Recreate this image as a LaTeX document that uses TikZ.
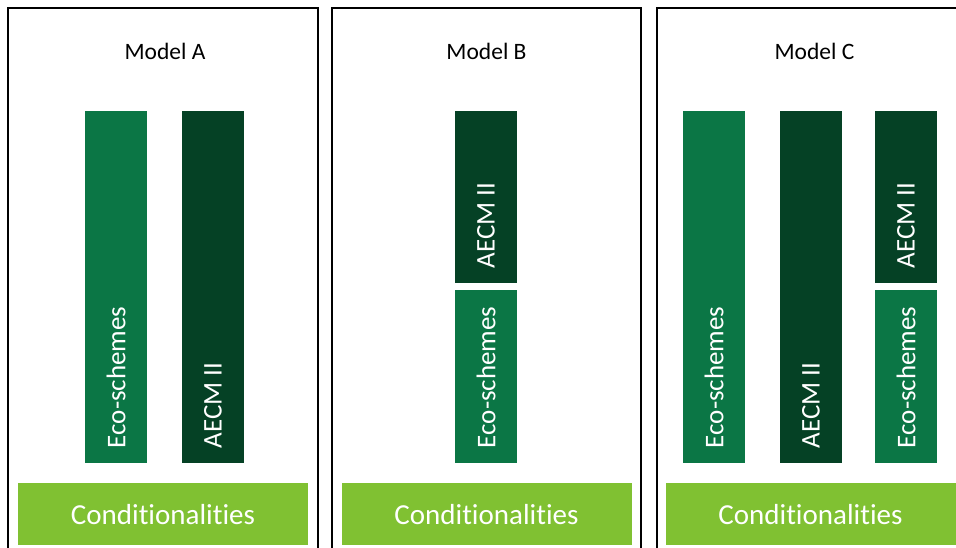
\documentclass[tikz,border=0pt]{standalone}
\usepackage{fontspec}
\setmainfont{Carlito}[Ligatures={NoCommon}]
\definecolor{ecogreen}{RGB}{11,118,69}
\definecolor{aecmgreen}{RGB}{5,65,37}
\definecolor{condgreen}{RGB}{128,193,50}
\begin{document}
\begin{tikzpicture}[x=1pt,y=-1pt,
    panel/.style={draw=black,line width=2pt},
    bar/.style={draw=none,inner sep=0pt,minimum width=62pt,anchor=north},
    ecobar/.style={bar,fill=ecogreen},
    aecmbar/.style={bar,fill=aecmgreen},
    barlabel/.style={text=white,rotate=90,anchor=west,inner sep=0pt,font=\fontsize{27}{31}\selectfont},
    condbar/.style={fill=condgreen,text=white,minimum width=290pt,minimum height=62pt,inner sep=0pt,anchor=north,font=\fontsize{29}{33}\selectfont},
    title/.style={font=\fontsize{23.5}{28}\selectfont}]
  \useasboundingbox (0,0) rectangle (956,548);

  % Model A
  \draw [panel] (8,8) rectangle (318,560);%
  \node [title] (titleA) at (165,51) {Model A};%
  \node [ecobar,minimum height=352pt] (ecoA) at (116,111) {};%
  \node [barlabel] (ecoAlabel) at ([yshift=15pt]ecoA.south) {Eco-schemes};%
  \node [aecmbar,minimum height=352pt] (aecmA) at (213,111) {};%
  \node [barlabel] (aecmAlabel) at ([yshift=15pt]aecmA.south) {AECM II};%
  \node [condbar] (condA) at (163,483) {Conditionalities};%

  % Model B
  \draw [panel] (332,8) rectangle (641,560);%
  \node [title] (titleB) at (486.5,51) {Model B};%
  \node [aecmbar,minimum height=172pt] (aecmB) at (486,111) {};%
  \node [barlabel] (aecmBlabel) at ([yshift=15pt]aecmB.south) {AECM II};%
  \node [ecobar,minimum height=173pt] (ecoB) at (486,290) {};%
  \node [barlabel] (ecoBlabel) at ([yshift=15pt]ecoB.south) {Eco-schemes};%
  \node [condbar] (condB) at (486.5,483) {Conditionalities};%

  % Model C
  \draw [panel] (657,8) rectangle (972,560);%
  \node [title] (titleC) at (814.5,51) {Model C};%
  \node [ecobar,minimum height=352pt] (ecoC) at (714,111) {};%
  \node [barlabel] (ecoClabel) at ([yshift=15pt]ecoC.south) {Eco-schemes};%
  \node [aecmbar,minimum height=352pt] (aecmC) at (811,111) {};%
  \node [barlabel] (aecmClabel) at ([yshift=15pt]aecmC.south) {AECM II};%
  \node [aecmbar,minimum height=172pt] (aecmCs) at (906,111) {};%
  \node [barlabel] (aecmCslabel) at ([yshift=15pt]aecmCs.south) {AECM II};%
  \node [ecobar,minimum height=173pt] (ecoCs) at (906,290) {};%
  \node [barlabel] (ecoCslabel) at ([yshift=15pt]ecoCs.south) {Eco-schemes};%
  \node [condbar] (condC) at (810.5,483) {Conditionalities};%
\end{tikzpicture}
\end{document}
